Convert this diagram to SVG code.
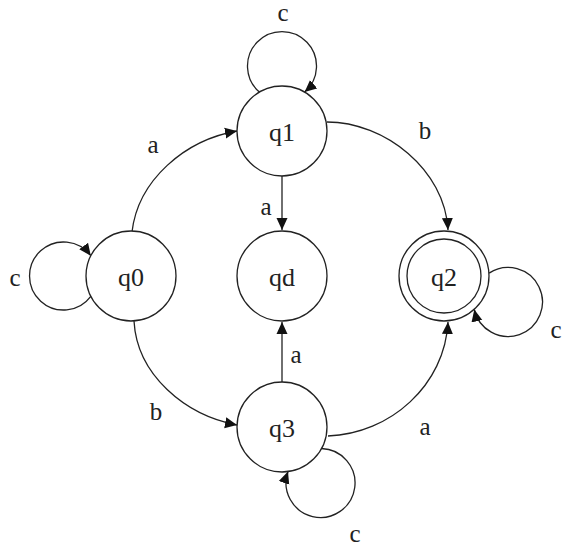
<svg xmlns="http://www.w3.org/2000/svg" width="569" height="547" viewBox="0 0 569 547">
<defs>
<style>
.st{fill:#fff;stroke:#222;stroke-width:1.3}
.e{fill:none;stroke:#222;stroke-width:1.3}
.lb{font-family:"Liberation Serif","Times New Roman",serif;font-size:26px;fill:#222;text-anchor:middle}
.el{font-family:"Liberation Serif","Times New Roman",serif;font-size:25px;fill:#222;text-anchor:middle}
</style>
<marker id="ah" markerUnits="userSpaceOnUse" markerWidth="12" markerHeight="12" viewBox="0 0 12 12" refX="12" refY="6" orient="auto">
<path d="M0,0.5 L12,6 L0,11.5 Z" fill="#111"/>
</marker>
</defs>
<rect width="569" height="547" fill="#fff"/>
<g id="connectors">
<path class="e" d="M132,232 C138,180 185,140 237,131" marker-end="url(#ah)"/>
<path class="e" d="M134,321 C137,375 185,415 237,425" marker-end="url(#ah)"/>
<path class="e" d="M327,122 C385,122 445,170 448,230" marker-end="url(#ah)"/>
<path class="e" d="M328,436 C390,434 445,385 448,322" marker-end="url(#ah)"/>
<path class="e" d="M282,176 L282,230" marker-end="url(#ah)"/>
<path class="e" d="M282,382 L282,322" marker-end="url(#ah)"/>
<path class="e" d="M259.4,92.1 A34.5,34.5 0 1 1 304.6,92.1" marker-end="url(#ah)"/>
<path class="e" d="M90.8,296.3 A34,34 0 1 1 90.8,255.7" marker-end="url(#ah)"/>
<path class="e" d="M489.1,273.1 A34.5,34.5 0 1 1 474.3,309.5" marker-end="url(#ah)"/>
<path class="e" d="M321.4,448.5 A34.5,34.5 0 1 1 288,471.5" marker-end="url(#ah)"/>
<text class="el" x="153" y="153">a</text>
<text class="el" x="156" y="420">b</text>
<text class="el" x="425" y="139">b</text>
<text class="el" x="425" y="435">a</text>
<text class="el" x="266" y="215">a</text>
<text class="el" x="296" y="363">a</text>
<text class="el" x="283" y="21">c</text>
<text class="el" x="15" y="286">c</text>
<text class="el" x="556" y="338">c</text>
<text class="el" x="355" y="542">c</text>
</g>
<g id="q0"><circle class="st" cx="131" cy="276" r="45"/><text class="lb" x="131" y="286">q0</text></g>
<g id="q1"><circle class="st" cx="282" cy="131" r="45"/><text class="lb" x="282" y="141">q1</text></g>
<g id="qd"><circle class="st" cx="282" cy="276" r="45"/><text class="lb" x="282" y="286">qd</text></g>
<g id="q2"><circle class="st" cx="444" cy="276" r="45"/><circle class="st" cx="444" cy="276" r="37"/><text class="lb" x="444" y="286">q2</text></g>
<g id="q3"><circle class="st" cx="282" cy="427" r="45"/><text class="lb" x="282" y="437">q3</text></g>
</svg>
